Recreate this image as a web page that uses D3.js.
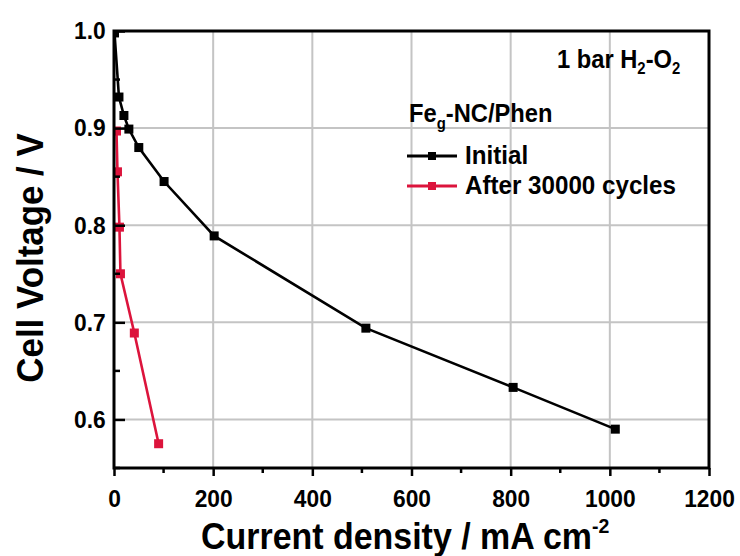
<!DOCTYPE html>
<html><head><meta charset="utf-8">
<script src="https://cdn.jsdelivr.net/npm/d3@7"></script>
<style>body{margin:0;background:#fff}svg{display:block}text{font-family:"Liberation Sans",Arial,sans-serif;font-weight:bold;fill:#000}</style>
</head><body><svg id="c" width="740" height="556"></svg>
<script>
const initialX = [1, 10, 20, 30, 50, 101, 202, 508, 805, 1011];
const initialY = [0.998, 0.932, 0.913, 0.899, 0.880, 0.845, 0.789, 0.694, 0.633, 0.590];
const cycledX = [5, 7, 11, 13, 41, 90];
const cycledY = [0.897, 0.855, 0.798, 0.750, 0.689, 0.575];
const xTicks = [0, 200, 400, 600, 800, 1000, 1200];
const yTicks = [0.6, 0.7, 0.8, 0.9, 1.0];
const xMinor = [100, 300, 500, 700, 900, 1100];
const yMinor = [0.55, 0.65, 0.75, 0.85, 0.95];
const seriesNames = ["Initial", "After 30000 cycles"];
const colors = ["#000000", "#dc143c"];

const svg = d3.select("#c");
const L = 114, R = 709, T = 31, B = 468;
const SX = 0.93;
const x = d3.scaleLinear().domain([0, 1200]).range([L, R]);
const y = d3.scaleLinear().domain([0.55, 1.0]).range([B, T]);

// grid
svg.append("g").selectAll("line").data(xTicks.slice(1, -1)).join("line")
  .attr("x1", d => x(d)).attr("x2", d => x(d)).attr("y1", T).attr("y2", B)
  .attr("stroke", "#c4c4c4").attr("stroke-width", 2);
svg.append("g").selectAll("line").data(yTicks.slice(0, -1)).join("line")
  .attr("y1", d => y(d)).attr("y2", d => y(d)).attr("x1", L).attr("x2", R)
  .attr("stroke", "#c4c4c4").attr("stroke-width", 2);

svg.append("defs").append("clipPath").attr("id", "clip")
  .append("rect").attr("x", L).attr("y", T).attr("width", R - L).attr("height", B - T);

const series = [
  {xs: initialX, ys: initialY, c: colors[0]},
  {xs: cycledX, ys: cycledY, c: colors[1]}
];
const plot = svg.append("g").attr("clip-path", "url(#clip)");
const line = d3.line().x(d => x(d[0])).y(d => y(d[1]));
series.forEach(s => {
  const pts = s.xs.map((v, i) => [v, s.ys[i]]);
  plot.append("path").attr("d", line(pts)).attr("fill", "none")
    .attr("stroke", s.c).attr("stroke-width", 2.6);
  plot.append("g").selectAll("rect").data(pts).join("rect")
    .attr("x", d => x(d[0]) - 4.5).attr("y", d => y(d[1]) - 4.5)
    .attr("width", 9).attr("height", 9).attr("fill", s.c);
});

// frame
svg.append("rect").attr("x", L).attr("y", T).attr("width", R - L).attr("height", B - T)
  .attr("fill", "none").attr("stroke", "#000").attr("stroke-width", 3);

// x axis ticks (outward)
const xAxis = d3.axisBottom(x).tickValues(xTicks).tickSize(8).tickFormat(d3.format("d"));
const gx = svg.append("g").attr("transform", `translate(0,${B})`).call(xAxis);
gx.select(".domain").remove();
gx.selectAll(".tick line").attr("stroke", "#000").attr("stroke-width", 2.5);
gx.selectAll(".tick text").attr("font-size", 24.5).attr("y", 22).attr("dy", "0.71em")
  .attr("transform", `scale(${SX},1)`)
  .attr("font-family", "Liberation Sans, Arial, sans-serif").attr("font-weight", "bold");
svg.append("g").selectAll("line").data(xMinor).join("line")
  .attr("x1", d => x(d)).attr("x2", d => x(d)).attr("y1", B).attr("y2", B + 5)
  .attr("stroke", "#000").attr("stroke-width", 2.5);

// y axis ticks (inward)
const yAxis = d3.axisLeft(y).tickValues(yTicks).tickSize(-11).tickFormat(d3.format(".1f"));
const gy = svg.append("g").attr("transform", `translate(${L},0)`).call(yAxis);
gy.select(".domain").remove();
gy.selectAll(".tick line").attr("stroke", "#000").attr("stroke-width", 2.5);
gy.selectAll(".tick text").attr("font-size", 24.5).attr("x", -9)
  .attr("transform", `scale(${SX},1)`)
  .attr("font-family", "Liberation Sans, Arial, sans-serif").attr("font-weight", "bold");
svg.append("g").selectAll("line").data(yMinor).join("line")
  .attr("y1", d => y(d)).attr("y2", d => y(d)).attr("x1", L).attr("x2", L + 6)
  .attr("stroke", "#000").attr("stroke-width", 2.5);

// axis titles
const xt = svg.append("text").attr("transform", `translate(201,549) scale(${SX},1)`).attr("font-size", 36.5);
xt.append("tspan").text("Current density / mA cm");
xt.append("tspan").attr("font-size", 21).attr("dy", -16).text("-2");

svg.append("text").attr("transform", `translate(43,258) rotate(-90) scale(${SX},1)`)
  .attr("text-anchor", "middle").attr("font-size", 37.5).text("Cell Voltage / V");

// annotation
const ann = svg.append("text").attr("transform", `translate(557,68) scale(${SX},1)`).attr("font-size", 25.5);
ann.append("tspan").text("1 bar H");
ann.append("tspan").attr("font-size", 16).attr("dy", 6).text("2");
ann.append("tspan").attr("dy", -6).text("-O");
ann.append("tspan").attr("font-size", 16).attr("dy", 6).text("2");

// legend
const lt = svg.append("text").attr("transform", `translate(409,122) scale(${SX},1)`).attr("font-size", 25.5);
lt.append("tspan").text("Fe");
lt.append("tspan").attr("font-size", 16).attr("dy", 7).text("g");
lt.append("tspan").attr("dy", -7).text("-NC/Phen");

const legY = [156, 186];
seriesNames.forEach((name, i) => {
  const g = svg.append("g");
  g.append("line").attr("x1", 407).attr("x2", 457).attr("y1", legY[i]).attr("y2", legY[i])
    .attr("stroke", colors[i]).attr("stroke-width", 3);
  g.append("rect").attr("x", 428).attr("y", legY[i] - 4).attr("width", 8).attr("height", 8).attr("fill", colors[i]);
  g.append("text").attr("transform", `translate(465,${legY[i] + 8}) scale(${SX},1)`)
    .attr("font-size", 26).text(name);
});
</script></body></html>
